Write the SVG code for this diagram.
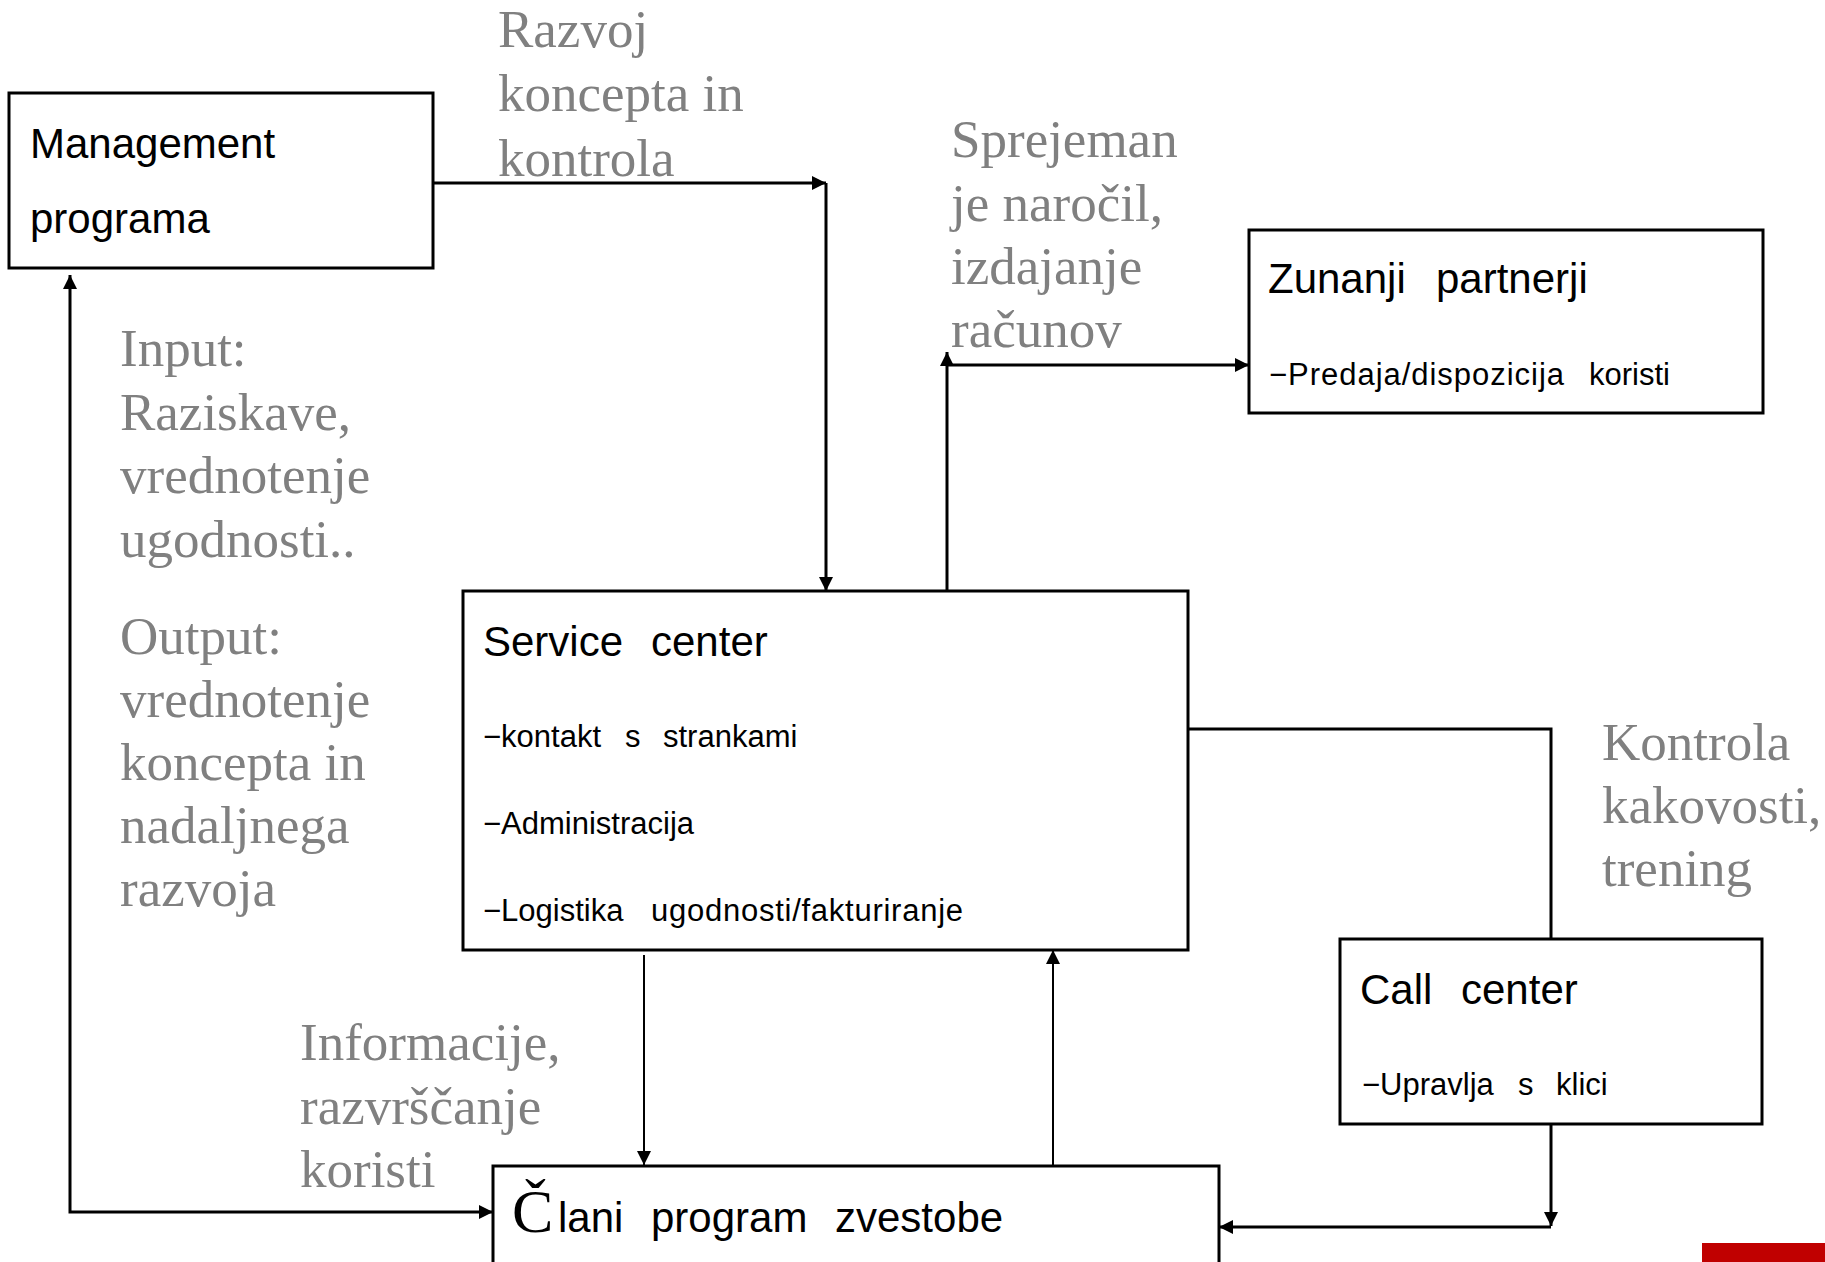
<svg xmlns="http://www.w3.org/2000/svg" width="1825" height="1262" viewBox="0 0 1825 1262">
<defs>
<style>
.box{fill:#fff;stroke:#000;stroke-width:3}
.t{font-family:"Liberation Sans",Arial,sans-serif;fill:#000}
.big{font-size:42px}
.small{font-size:31px}
.g{font-family:"Liberation Serif","Times New Roman",serif;font-size:53px;fill:#808080}
.c{fill:none;stroke:#000;stroke-width:3}
.thin{fill:none;stroke:#000;stroke-width:2}
</style>
<marker id="arr" viewBox="0 0 10 10" refX="10" refY="5" markerUnits="userSpaceOnUse" markerWidth="15" markerHeight="14" orient="auto-start-reverse">
<path d="M0,0 L10,5 L0,10 z" fill="#000"/>
</marker>
</defs>
<rect width="1825" height="1262" fill="#fff"/>

<g id="labels">
<text class="g" x="498"><tspan x="498" y="47">Razvoj</tspan><tspan x="498" y="111">koncepta in</tspan><tspan x="498" y="176">kontrola</tspan></text>
<text class="g" x="951"><tspan x="951" y="157">Sprejeman</tspan><tspan x="951" y="221">je naročil,</tspan><tspan x="951" y="284">izdajanje</tspan><tspan x="951" y="347">računov</tspan></text>
<text class="g" x="120"><tspan x="120" y="366">Input:</tspan><tspan x="120" y="430">Raziskave,</tspan><tspan x="120" y="493">vrednotenje</tspan><tspan x="120" y="557">ugodnosti..</tspan></text>
<text class="g" x="120"><tspan x="120" y="654">Output:</tspan><tspan x="120" y="717">vrednotenje</tspan><tspan x="120" y="780">koncepta in</tspan><tspan x="120" y="843">nadaljnega</tspan><tspan x="120" y="906">razvoja</tspan></text>
<text class="g" x="300"><tspan x="300" y="1060">Informacije,</tspan><tspan x="300" y="1124">razvrščanje</tspan><tspan x="300" y="1187">koristi</tspan></text>
<text class="g" x="1602"><tspan x="1602" y="760">Kontrola</tspan><tspan x="1602" y="823">kakovosti,</tspan><tspan x="1602" y="886">trening</tspan></text>
</g>

<g id="connectors">
<path class="c" d="M433,183 L826,183" marker-end="url(#arr)"/>
<path class="c" d="M826,183 L826,591" marker-end="url(#arr)"/>
<path class="c" d="M947,591 L947,352" marker-end="url(#arr)"/>
<path class="c" d="M947,365 L1249,365" marker-end="url(#arr)"/>
<path class="c" d="M1188,729 L1551,729 L1551,939"/>
<path class="c" d="M1551,1123 L1551,1226" marker-end="url(#arr)"/>
<path class="c" d="M1551,1227 L1219,1227" marker-end="url(#arr)"/>
<path class="thin" d="M644,955 L644,1165" marker-end="url(#arr)"/>
<path class="thin" d="M1053,1165 L1053,950" marker-end="url(#arr)"/>
<path class="c" d="M70,275 L70,1212 L493,1212" marker-start="url(#arr)" marker-end="url(#arr)"/>
</g>

<g id="management">
<rect class="box" x="9" y="93" width="424" height="175"/>
<text class="t big" x="30" y="158">Management</text>
<text class="t big" x="30" y="233">programa</text>
</g>

<g id="service-center">
<rect class="box" x="463" y="591" width="725" height="359"/>
<text class="t big" y="656"><tspan x="483">Service</tspan><tspan x="651">center</tspan></text>
<text class="t small" y="747"><tspan x="483">−kontakt</tspan><tspan x="625">s</tspan><tspan x="663">strankami</tspan></text>
<text class="t small" y="834"><tspan x="483">−Administracija</tspan></text>
<text class="t small" y="921"><tspan x="483">−Logistika</tspan><tspan x="651" textLength="312" lengthAdjust="spacing">ugodnosti/fakturiranje</tspan></text>
</g>

<g id="zunanji-partnerji">
<rect class="box" x="1249" y="230" width="514" height="183"/>
<text class="t big" y="293"><tspan x="1268">Zunanji</tspan><tspan x="1436">partnerji</tspan></text>
<text class="t small" y="385"><tspan x="1269" textLength="295" lengthAdjust="spacing">−Predaja/dispozicija</tspan><tspan x="1589">koristi</tspan></text>
</g>

<g id="call-center">
<rect class="box" x="1340" y="939" width="422" height="185"/>
<text class="t big" y="1004"><tspan x="1360">Call</tspan><tspan x="1461">center</tspan></text>
<text class="t small" y="1095"><tspan x="1362">−Upravlja</tspan><tspan x="1518">s</tspan><tspan x="1556">klici</tspan></text>
</g>

<g id="clani">
<rect class="box" x="493" y="1166" width="726" height="130"/>
<text class="t big" y="1232"><tspan x="512" font-family="'Liberation Serif','Times New Roman',serif" font-size="62">Č</tspan><tspan x="558">lani</tspan><tspan x="651">program</tspan><tspan x="835">zvestobe</tspan></text>
</g>

<rect x="1702" y="1243" width="123" height="19" fill="#C00000"/>
</svg>
